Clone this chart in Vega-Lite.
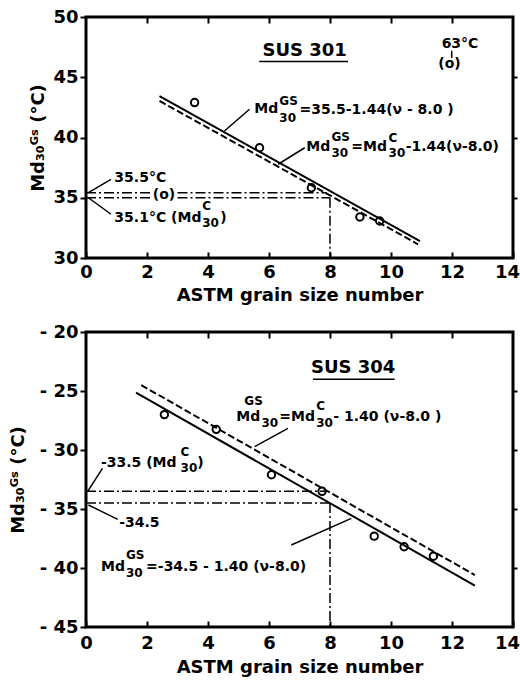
{
  "$schema": "https://vega.github.io/schema/vega-lite/v6.json",
  "background": "white",
  "padding": {"left": 7, "top": 6, "right": 2, "bottom": 2},
  "spacing": 15,
  "config": {
    "view": {"stroke": "black", "strokeWidth": 3},
    "axis": {
      "labelFont": "DejaVu Sans", "labelFontWeight": "bold", "labelFontSize": 18, "labelColor": "black",
      "titleFont": "DejaVu Sans", "titleFontWeight": "bold", "titleFontSize": 18, "titleColor": "black",
      "domain": false, "grid": false, "tickColor": "black", "tickWidth": 2, "labelFlush": false
    },
    "text": {"font": "DejaVu Sans", "fontWeight": "bold", "color": "black"}
  },
  "datasets": {
    "t_pts": [{"x": 3.56, "y": 42.9}, {"x": 5.69, "y": 39.15}, {"x": 7.39, "y": 35.83}, {"x": 8.98, "y": 33.4}, {"x": 9.63, "y": 33.07}],
    "t_solid": [{"x": 2.41, "y": 43.44}, {"x": 10.95, "y": 31.4}],
    "t_dash": [{"x": 2.41, "y": 43.03}, {"x": 10.89, "y": 31.14}],
    "t_guides": [
      {"g": "a", "x": 0, "y": 35.42}, {"g": "a", "x": 2.1, "y": 35.42},
      {"g": "b", "x": 3.0, "y": 35.42}, {"g": "b", "x": 7.9, "y": 35.42},
      {"g": "c", "x": 0, "y": 35.0}, {"g": "c", "x": 2.1, "y": 35.0},
      {"g": "d", "x": 3.0, "y": 35.0}, {"g": "d", "x": 8.0, "y": 35.0},
      {"g": "e", "x": 8.0, "y": 35.0}, {"g": "e", "x": 8.0, "y": 30.0}
    ],
    "t_leaders": [
      {"g": "a", "x": 5.36, "y": 42.34}, {"g": "a", "x": 4.54, "y": 40.54},
      {"g": "b", "x": 7.17, "y": 39.15}, {"g": "b", "x": 6.3, "y": 37.78},
      {"g": "c", "x": 0.82, "y": 36.53}, {"g": "c", "x": 0.08, "y": 35.42},
      {"g": "d", "x": 0.82, "y": 33.63}, {"g": "d", "x": 0.08, "y": 35.0},
      {"g": "e", "x": 11.99, "y": 46.6}, {"g": "e", "x": 11.99, "y": 47.2},
      {"g": "u", "x": 5.68, "y": 46.3}, {"g": "u", "x": 8.59, "y": 46.3}
    ],
    "t_main": [
      {"x": 5.52, "y": 42.39, "t": "Md"}, {"x": 7.0, "y": 42.3, "t": "=35.5-1.44(ν - 8.0 )"},
      {"x": 7.22, "y": 39.24, "t": "Md"}, {"x": 8.7, "y": 39.24, "t": "=Md"}, {"x": 10.48, "y": 39.24, "t": "-1.44(ν-8.0)"},
      {"x": 0.93, "y": 36.66, "t": "35.5°C"},
      {"x": 2.19, "y": 35.2, "t": "(o)"},
      {"x": 0.93, "y": 33.34, "t": "35.1°C (Md"}, {"x": 4.4, "y": 33.34, "t": ")"},
      {"x": 11.66, "y": 47.73, "t": "63°C"},
      {"x": 11.55, "y": 46.07, "t": "(o)"}
    ],
    "t_small": [
      {"x": 6.34, "y": 43.03, "t": "GS"}, {"x": 6.34, "y": 41.6, "t": "30"},
      {"x": 8.05, "y": 40.07, "t": "GS"}, {"x": 8.05, "y": 38.74, "t": "30"},
      {"x": 9.92, "y": 39.98, "t": "C"}, {"x": 9.92, "y": 38.74, "t": "30"},
      {"x": 3.81, "y": 34.3, "t": "C"}, {"x": 3.81, "y": 32.93, "t": "30"}
    ],
    "t_title": [{"x": 7.17, "y": 47.18, "t": "SUS 301"}],
    "b_pts": [{"x": 2.57, "y": -27.0}, {"x": 4.27, "y": -28.25}, {"x": 6.08, "y": -32.1}, {"x": 7.74, "y": -33.5}, {"x": 9.45, "y": -37.3}, {"x": 10.43, "y": -38.2}, {"x": 11.39, "y": -39.0}],
    "b_solid": [{"x": 1.64, "y": -25.14}, {"x": 12.75, "y": -41.5}],
    "b_dash": [{"x": 1.81, "y": -24.5}, {"x": 12.75, "y": -40.6}],
    "b_guides": [
      {"g": "a", "x": 0, "y": -33.5}, {"g": "a", "x": 7.92, "y": -33.5},
      {"g": "b", "x": 0, "y": -34.5}, {"g": "b", "x": 8.0, "y": -34.5},
      {"g": "c", "x": 8.0, "y": -34.5}, {"g": "c", "x": 8.0, "y": -45.0}
    ],
    "b_leaders": [
      {"g": "a", "x": 6.62, "y": -28.16}, {"g": "a", "x": 5.53, "y": -29.72},
      {"g": "b", "x": 0.54, "y": -31.55}, {"g": "b", "x": 0.05, "y": -33.53},
      {"g": "c", "x": 1.04, "y": -35.88}, {"g": "c", "x": 0.08, "y": -34.66},
      {"g": "d", "x": 6.73, "y": -38.05}, {"g": "d", "x": 8.7, "y": -35.79},
      {"g": "u", "x": 7.44, "y": -24.0}, {"g": "u", "x": 10.12, "y": -24.0}
    ],
    "b_main": [
      {"x": 4.93, "y": -27.18, "t": "Md"}, {"x": 6.34, "y": -27.18, "t": "=Md"}, {"x": 8.11, "y": -27.18, "t": "- 1.40 (ν-8.0 )"},
      {"x": 0.49, "y": -31.13, "t": "-33.5 (Md"}, {"x": 3.65, "y": -31.13, "t": ")"},
      {"x": 1.09, "y": -36.21, "t": "-34.5"},
      {"x": 0.49, "y": -39.89, "t": "Md"}, {"x": 1.97, "y": -39.89, "t": "=-34.5 - 1.40 (ν-8.0)"}
    ],
    "b_small": [
      {"x": 5.19, "y": -25.85, "t": "GS"}, {"x": 5.75, "y": -27.7, "t": "30"},
      {"x": 7.55, "y": -26.3, "t": "C"}, {"x": 7.55, "y": -27.7, "t": "30"},
      {"x": 3.1, "y": -30.14, "t": "C"}, {"x": 3.1, "y": -31.55, "t": "30"},
      {"x": 1.31, "y": -38.9, "t": "GS"}, {"x": 1.31, "y": -40.4, "t": "30"}
    ],
    "b_title": [{"x": 8.76, "y": -23.08, "t": "SUS 304"}]
  },
  "vconcat": [
    {
      "width": 427, "height": 241,
      "encoding": {
        "x": {"field": "x", "type": "quantitative", "scale": {"domain": [0, 14], "nice": false}, "axis": null},
        "y": {"field": "y", "type": "quantitative", "scale": {"domain": [30, 50], "nice": false}, "axis": null}
      },
      "resolve": {"axis": {"x": "independent", "y": "independent"}},
      "layer": [
        {
          "data": {"name": "t_pts"},
          "mark": {"type": "point", "shape": "circle", "filled": false, "stroke": "black", "strokeWidth": 2, "size": 55, "opacity": 1},
          "encoding": {
            "x": {"field": "x", "type": "quantitative", "scale": {"domain": [0, 14], "nice": false},
              "axis": {"orient": "bottom", "values": [0, 2, 4, 6, 8, 10, 12, 14], "tickSize": -6, "labelPadding": 11, "labelOffset": {"expr": "datum.value == 14 ? -6 : 0"}, "title": "ASTM grain size number", "titlePadding": 5}},
            "y": {"field": "y", "type": "quantitative", "scale": {"domain": [30, 50], "nice": false},
              "axis": {"orient": "left", "values": [30, 35, 40, 45, 50], "tickSize": 6, "labelPadding": 2, "title": "Md₃₀ᴳˢ (°C)", "titlePadding": 5}}
          }
        },
        {
          "data": {"name": "t_solid"},
          "mark": {"type": "line", "color": "black", "strokeWidth": 2},
          "encoding": {
            "x": {"field": "x", "type": "quantitative", "scale": {"domain": [0, 14], "nice": false},
              "axis": {"orient": "top", "values": [2, 4, 6, 8, 10, 12], "tickSize": -6, "labels": false, "title": null}},
            "y": {"field": "y", "type": "quantitative", "scale": {"domain": [30, 50], "nice": false},
              "axis": {"orient": "right", "values": [35, 40, 45], "tickSize": 4, "labels": false, "title": null}}
          }
        },
        {
          "data": {"name": "t_dash"},
          "mark": {"type": "line", "color": "black", "strokeWidth": 2, "strokeDash": [7, 3]}
        },
        {
          "data": {"name": "t_guides"},
          "mark": {"type": "line", "color": "black", "strokeWidth": 1.5, "strokeDash": [10, 3, 2, 3]},
          "encoding": {"detail": {"field": "g"}}
        },
        {
          "data": {"name": "t_leaders"},
          "mark": {"type": "line", "color": "black", "strokeWidth": 1.5},
          "encoding": {"detail": {"field": "g"}}
        },
        {
          "data": {"name": "t_main"},
          "mark": {"type": "text", "align": "left", "baseline": "middle", "fontSize": 14},
          "encoding": {"text": {"field": "t"}}
        },
        {
          "data": {"name": "t_small"},
          "mark": {"type": "text", "align": "left", "baseline": "middle", "fontSize": 12},
          "encoding": {"text": {"field": "t"}}
        },
        {
          "data": {"name": "t_title"},
          "mark": {"type": "text", "align": "center", "baseline": "middle", "fontSize": 18},
          "encoding": {"text": {"field": "t"}}
        }
      ]
    },
    {
      "width": 427, "height": 295,
      "encoding": {
        "x": {"field": "x", "type": "quantitative", "scale": {"domain": [0, 14], "nice": false}, "axis": null},
        "y": {"field": "y", "type": "quantitative", "scale": {"domain": [-45, -20], "nice": false}, "axis": null}
      },
      "resolve": {"axis": {"x": "independent", "y": "independent"}},
      "layer": [
        {
          "data": {"name": "b_pts"},
          "mark": {"type": "point", "shape": "circle", "filled": false, "stroke": "black", "strokeWidth": 2, "size": 55, "opacity": 1},
          "encoding": {
            "x": {"field": "x", "type": "quantitative", "scale": {"domain": [0, 14], "nice": false},
              "axis": {"orient": "bottom", "values": [0, 2, 4, 6, 8, 10, 12, 14], "tickSize": -6, "labelPadding": 13, "labelOffset": {"expr": "datum.value == 14 ? -6 : 0"}, "title": "ASTM grain size number", "titlePadding": 6}},
            "y": {"field": "y", "type": "quantitative", "scale": {"domain": [-45, -20], "nice": false},
              "axis": {"orient": "left", "values": [-45, -40, -35, -30, -25, -20], "labelExpr": "'- ' + abs(datum.value)", "tickSize": 6, "labelPadding": 2, "title": "Md₃₀ᴳˢ (°C)", "titlePadding": 12}}
          }
        },
        {
          "data": {"name": "b_solid"},
          "mark": {"type": "line", "color": "black", "strokeWidth": 2},
          "encoding": {
            "x": {"field": "x", "type": "quantitative", "scale": {"domain": [0, 14], "nice": false},
              "axis": {"orient": "top", "values": [2, 4, 6, 8, 10, 12], "tickSize": -6, "labels": false, "title": null}},
            "y": {"field": "y", "type": "quantitative", "scale": {"domain": [-45, -20], "nice": false},
              "axis": {"orient": "right", "values": [-40, -35, -30, -25], "tickSize": 4, "labels": false, "title": null}}
          }
        },
        {
          "data": {"name": "b_dash"},
          "mark": {"type": "line", "color": "black", "strokeWidth": 2, "strokeDash": [7, 3]}
        },
        {
          "data": {"name": "b_guides"},
          "mark": {"type": "line", "color": "black", "strokeWidth": 1.5, "strokeDash": [10, 3, 2, 3]},
          "encoding": {"detail": {"field": "g"}}
        },
        {
          "data": {"name": "b_leaders"},
          "mark": {"type": "line", "color": "black", "strokeWidth": 1.5},
          "encoding": {"detail": {"field": "g"}}
        },
        {
          "data": {"name": "b_main"},
          "mark": {"type": "text", "align": "left", "baseline": "middle", "fontSize": 14},
          "encoding": {"text": {"field": "t"}}
        },
        {
          "data": {"name": "b_small"},
          "mark": {"type": "text", "align": "left", "baseline": "middle", "fontSize": 12},
          "encoding": {"text": {"field": "t"}}
        },
        {
          "data": {"name": "b_title"},
          "mark": {"type": "text", "align": "center", "baseline": "middle", "fontSize": 18},
          "encoding": {"text": {"field": "t"}}
        }
      ]
    }
  ]
}
